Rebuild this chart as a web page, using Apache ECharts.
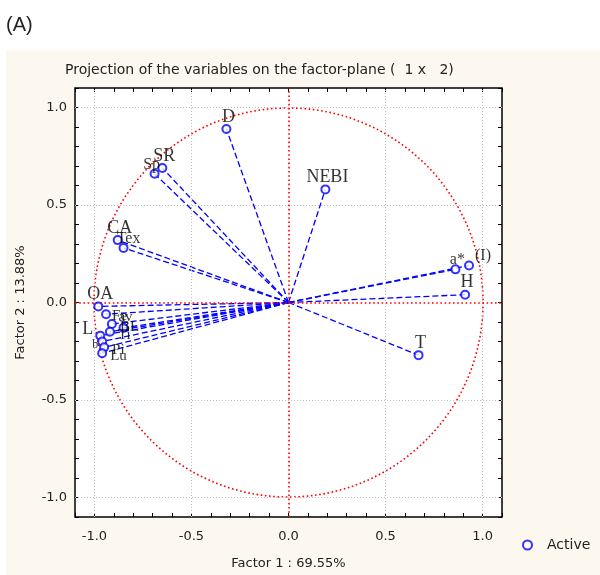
<!DOCTYPE html>
<html><head><meta charset="utf-8">
<script src="https://cdn.jsdelivr.net/npm/echarts@6.0.0/dist/echarts.min.js"></script>
<style>
html,body{margin:0;padding:0;background:#fff;}
#wrap{position:relative;width:600px;height:575px;overflow:hidden;}
#bg{position:absolute;left:6px;top:50px;width:594px;height:525px;background:#fdf8ef;}
#c{position:absolute;left:0;top:0;width:600px;height:575px;}
</style>
</head><body>
<div id="wrap"><div id="bg"></div><div id="c"></div></div>
<script>
// ---- data ----
const variables = ['D','NEBI','SR','Sp','CA','Tex','OA','Fe','av','BL','Ti','L','b','Pi','Lu','a*','(I)','H','T'];
const factor1 = [-0.32, 0.19, -0.65, -0.69, -0.88, -0.85, -0.98, -0.94, -0.85, -0.91, -0.92, -0.97, -0.96, -0.95, -0.96, 0.86, 0.93, 0.91, 0.67];
const factor2 = [ 0.89, 0.58,  0.69,  0.66,  0.32,  0.28, -0.02, -0.06, -0.13, -0.11, -0.15, -0.17, -0.20, -0.23, -0.26, 0.17, 0.19, 0.04, -0.27];
const tickLabels = ['-1.0','-0.5','0.0','0.5','1.0'];
const gridValues = [-1.0, -0.5, 0.5, 1.0];
const seriesName = 'Active';
const xName = 'Factor 1 : 69.55%';
const yName = 'Factor 2 : 13.88%';
const chartTitle = 'Projection of the variables on the factor-plane (  1 x   2)';

// ---- label placement (style only) ----
const labelPlacement = {
  'Fe': {position:'right', distance:1, offset:[0,2], fontSize:15},
  'BL': {position:'right', distance:1, fontSize:15},
  'Ti': {position:'right', distance:1, fontSize:15},
  'Pi': {position:'right', distance:1, fontSize:15},
  'Lu': {position:'right', distance:1, fontSize:15},
  'av': {fontSize:15, offset:[2,3]},
  'L':  {position:'left', distance:2, offset:[0,-6]},
  'b':  {position:'left', distance:1, fontSize:12},
  'Tex':{position:'top', offset:[5,5], fontSize:16},
  '(I)':{position:'top', offset:[14,4], fontSize:16},
  'a*': {fontSize:16, offset:[2,4]},
  'Sp': {position:'top', offset:[-3,5], fontSize:16}
};

const blue = '#0000ff';
const red = '#ff0000';
const sans = 'DejaVu Sans';
const chart = echarts.init(document.getElementById('c'), null, {renderer:'canvas'});

function fmt(v){
  const s = (Math.round(v*10)/10).toFixed(1);
  return tickLabels.indexOf(s) >= 0 ? s : '';
}
const axisBase = {
  type:'value', min:-1.1, max:1.1, interval:0.1,
  axisLine:{show:false, onZero:false},
  splitLine:{show:false},
  axisTick:{show:true, inside:true, length:4, lineStyle:{color:'#000', width:1}}
};
const pts = factor1.map((x,i)=>[x, factor2[i]]);

const option = {
  animation:false,
  backgroundColor:'transparent',
  title:[
    {text:'(A)', left:1, top:10, textStyle:{fontFamily:'Liberation Sans', fontSize:20, fontWeight:'normal', color:'#222'}},
    {text:chartTitle, left:60, top:58, textStyle:{fontFamily:sans, fontSize:14, fontWeight:'normal', color:'#222'}}
  ],
  legend:{
    data:[{name:seriesName, icon:'emptyCircle'}],
    left:517, top:533, itemWidth:9, itemHeight:9,
    textStyle:{fontFamily:sans, fontSize:14, color:'#222', padding:[0,0,0,10]}
  },
  grid:{left:75, right:98, top:88, bottom:58, show:true, backgroundColor:'#fff', borderColor:'#000', borderWidth:1.5},
  xAxis:[
    Object.assign({}, axisBase, {position:'bottom',
      axisLabel:{formatter:fmt, fontFamily:sans, fontSize:13, color:'#222', margin:13},
      name:xName, nameLocation:'middle', nameGap:40,
      nameTextStyle:{fontFamily:sans, fontSize:13, color:'#222'}}),
    Object.assign({}, axisBase, {position:'top', axisLabel:{show:false}})
  ],
  yAxis:[
    Object.assign({}, axisBase, {position:'left',
      axisLabel:{formatter:fmt, fontFamily:sans, fontSize:13, color:'#222', margin:8},
      name:yName, nameLocation:'middle', nameGap:48, nameRotate:90,
      nameTextStyle:{fontFamily:sans, fontSize:13, color:'#222'}}),
    Object.assign({}, axisBase, {position:'right', axisLabel:{show:false}})
  ],
  series:[
    { // grey dotted grid lines at major ticks
      type:'line', data:[], silent:true,
      markLine:{silent:true, symbol:'none', label:{show:false},
        lineStyle:{color:'#bdbdbd', type:[1,2], width:1},
        data: gridValues.map(v=>({xAxis:v})).concat(gridValues.map(v=>({yAxis:v})))},
      z:1
    },
    { // unit circle
      type:'custom', silent:true, data:[[0,0,1]], z:2,
      renderItem:function(params, api){
        const c = api.coord([api.value(0), api.value(1)]);
        const s = api.size([api.value(2), api.value(2)]);
        return {type:'circle', shape:{cx:c[0], cy:c[1], r:(s[0]+s[1])/2},
          style:{fill:null, stroke:red, lineWidth:1.6, lineDash:[1.6,2.6]}};
      }
    },
    { // red zero lines
      type:'line', data:[], silent:true,
      markLine:{silent:true, symbol:'none', label:{show:false},
        lineStyle:{color:red, type:[1.6,2.6], width:1.6},
        data:[{xAxis:0},{yAxis:0}]},
      z:2
    },
    { // vectors from origin
      type:'custom', silent:true, data:pts, z:3,
      renderItem:function(params, api){
        const o = api.coord([0,0]);
        const p = api.coord([api.value(0), api.value(1)]);
        return {type:'line', shape:{x1:o[0], y1:o[1], x2:p[0], y2:p[1]},
          style:{stroke:blue, lineWidth:1.3, lineDash:[6,3]}};
      }
    },
    {
      name:seriesName, type:'scatter', symbol:'emptyCircle', symbolSize:8, z:5,
      itemStyle:{color:blue, borderWidth:1.3},
      label:{show:true, formatter:'{b}', position:'top', distance:1, offset:[2,3],
        fontFamily:'Liberation Serif', fontSize:18, color:'#000'},
      data: variables.map((n,i)=>{
        const d = {name:n, value:[factor1[i], factor2[i]]};
        if (labelPlacement[n]) d.label = labelPlacement[n];
        return d;
      })
    }
  ]
};
chart.setOption(option);
</script>
</body></html>
